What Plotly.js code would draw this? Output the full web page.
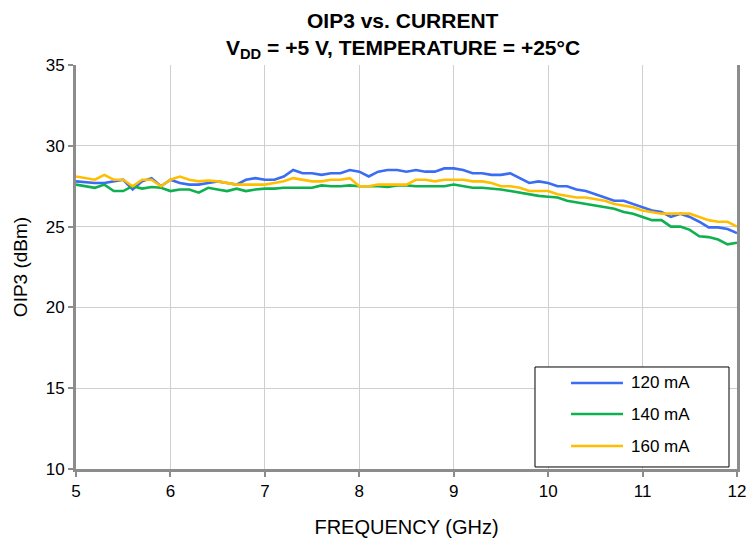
<!DOCTYPE html>
<html><head><meta charset="utf-8">
<script src="https://cdn.plot.ly/plotly-3.0.1.min.js"></script>
<style>html,body{margin:0;padding:0;background:#fff}#chart{width:749px;height:542px}</style>
</head><body><div id="chart"></div>
<script>
const freq = [5.0,5.1,5.2,5.3,5.4,5.5,5.6,5.7,5.8,5.9,6.0,6.1,6.2,6.3,6.4,6.5,6.6,6.7,6.8,6.9,7.0,7.1,7.2,7.3,7.4,7.5,7.6,7.7,7.8,7.9,8.0,8.1,8.2,8.3,8.4,8.5,8.6,8.7,8.8,8.9,9.0,9.1,9.2,9.3,9.4,9.5,9.6,9.7,9.8,9.9,10.0,10.1,10.2,10.3,10.4,10.5,10.6,10.7,10.8,10.9,11.0,11.1,11.2,11.3,11.4,11.5,11.6,11.7,11.8,11.9,12.0];
const oip3_120 = [27.8,27.75,27.7,27.7,27.8,27.9,27.3,27.8,28.0,27.5,27.9,27.7,27.6,27.6,27.7,27.8,27.7,27.6,27.9,28.0,27.9,27.9,28.1,28.5,28.3,28.3,28.2,28.3,28.3,28.5,28.4,28.1,28.4,28.5,28.5,28.4,28.5,28.4,28.4,28.6,28.6,28.5,28.3,28.3,28.2,28.2,28.3,28.0,27.7,27.8,27.7,27.5,27.5,27.3,27.2,27.0,26.8,26.6,26.6,26.4,26.2,26.0,25.9,25.6,25.8,25.6,25.3,24.95,24.95,24.85,24.6];
const oip3_140 = [27.6,27.5,27.4,27.6,27.2,27.2,27.5,27.35,27.45,27.4,27.2,27.3,27.3,27.1,27.4,27.3,27.2,27.35,27.2,27.3,27.35,27.35,27.4,27.4,27.4,27.4,27.55,27.5,27.5,27.55,27.5,27.5,27.5,27.45,27.55,27.55,27.5,27.5,27.5,27.5,27.6,27.5,27.4,27.4,27.35,27.3,27.2,27.1,27.0,26.9,26.85,26.8,26.6,26.5,26.4,26.3,26.2,26.1,25.9,25.8,25.6,25.4,25.4,25.0,25.0,24.8,24.4,24.35,24.2,23.9,24.0];
const oip3_160 = [28.1,28.0,27.9,28.2,27.9,27.9,27.5,27.9,27.9,27.5,27.9,28.1,27.9,27.8,27.85,27.8,27.7,27.6,27.6,27.6,27.6,27.7,27.8,28.0,27.9,27.8,27.8,27.9,27.9,28.0,27.5,27.5,27.6,27.6,27.6,27.6,27.9,27.9,27.8,27.9,27.9,27.9,27.8,27.8,27.7,27.5,27.5,27.4,27.2,27.2,27.2,27.0,26.9,26.8,26.8,26.7,26.6,26.4,26.3,26.2,26.0,25.9,25.8,25.8,25.8,25.8,25.6,25.4,25.3,25.3,25.0];
const seriesNames = ["120 mA","140 mA","160 mA"];
const seriesColors = ["#3a6cf4","#0fb04f","#ffbf00"];
const xTicks = [5,6,7,8,9,10,11,12];
const yTicks = [10,15,20,25,30,35];

const font = "Liberation Sans, Arial, sans-serif";
const ys = [oip3_120, oip3_140, oip3_160];
const traces = ys.map((y,i)=>({
  x: freq, y: y, type:'scatter', mode:'lines', name: seriesNames[i],
  showlegend:false,
  line:{color: seriesColors[i], width:2.6}
}));

// custom legend box (paper coordinates)
const shapes = [{type:'rect', xref:'paper', yref:'paper', x0:0.6944, x1:0.9879, y0:0.005, y1:0.2525,
  fillcolor:'#fff', line:{color:'#000', width:1}, layer:'above'}];
const annotations = [];
const legendY = [0.2129, 0.1361, 0.0569];
seriesNames.forEach((n,i)=>{
  shapes.push({type:'line', xref:'paper', yref:'paper', x0:0.7489, x1:0.8275, y0:legendY[i], y1:legendY[i],
    line:{color:seriesColors[i], width:2.6}, layer:'above'});
  annotations.push({text:n, xref:'paper', yref:'paper', x:0.836, y:legendY[i], xanchor:'left', yanchor:'middle',
    showarrow:false, font:{family:font, size:17, color:'#000'}});
});
annotations.push(
  {text:'<b>OIP3 vs. CURRENT</b>', xref:'paper', yref:'paper', x:0.495, y:1, yshift:45,
   xanchor:'center', yanchor:'middle', showarrow:false, font:{family:font, size:21}},
  {text:'<b>V<sub>DD</sub> = +5 V, TEMPERATURE = +25°C</b>', xref:'paper', yref:'paper', x:0.495, y:1, yshift:16,
   xanchor:'center', yanchor:'middle', showarrow:false, font:{family:font, size:21}}
);

const layout = {
  width:749, height:542,
  margin:{l:76, r:12, t:65, b:73},
  paper_bgcolor:'#fff', plot_bgcolor:'#fff',
  font:{family:font, color:'#000', size:17},
  showlegend:false,
  xaxis:{range:[5,12], tickvals:xTicks, ticktext:xTicks.map(String),
    showgrid:true, gridcolor:'#cfcfcf', gridwidth:1,
    showline:true, linecolor:'#8c8c8c', linewidth:3,
    ticks:'outside', ticklen:5, tickcolor:'#8c8c8c', tickwidth:2,
    tickfont:{family:font, size:17}, zeroline:false,
    title:{text:'FREQUENCY (GHz)', font:{family:font, size:20}, standoff:20}},
  yaxis:{range:[10,35], tickvals:yTicks, ticktext:yTicks.map(String),
    showgrid:true, gridcolor:'#cfcfcf', gridwidth:1,
    showline:true, mirror:true, linecolor:'#8c8c8c', linewidth:3,
    ticks:'outside', ticklen:5, tickcolor:'#8c8c8c', tickwidth:2,
    tickfont:{family:font, size:17}, zeroline:false,
    title:{text:'OIP3 (dBm)', font:{family:font, size:19}, standoff:14}},
  shapes: shapes,
  annotations: annotations
};
Plotly.newPlot('chart', traces, layout, {displayModeBar:false, staticPlot:true});
</script></body></html>
